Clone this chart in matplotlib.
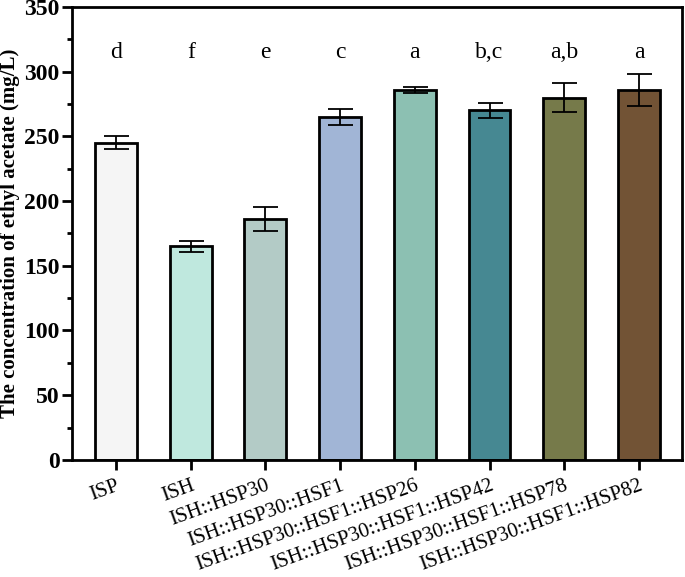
import numpy as np
import matplotlib.pyplot as plt
from matplotlib.ticker import MultipleLocator

# strains, ethyl acetate (mg/L), error bars, significance letters
strains = ['ISP', 'ISH', 'ISH::HSP30', 'ISH::HSP30::HSF1', 'ISH::HSP30::HSF1::HSP26',
           'ISH::HSP30::HSF1::HSP42', 'ISH::HSP30::HSF1::HSP78', 'ISH::HSP30::HSF1::HSP82']
conc = [245, 165, 186, 265, 286, 270, 280, 286]
err = [5, 4.5, 9.5, 6, 2.5, 5.5, 11.5, 12.5]
letters = ['d', 'f', 'e', 'c', 'a', 'b,c', 'a,b', 'a']
colors = ['#f5f5f5', '#bfe8de', '#b3cbc6', '#a1b5d6', '#8cc0b2', '#468892', '#767a4a', '#725335']

plt.rcParams['font.family'] = ['Liberation Serif', 'DejaVu Serif']

fig = plt.figure(figsize=(6.85, 5.77), dpi=100)
ax = fig.add_axes([0.105, 0.203, 0.891, 0.785])

x = np.arange(len(strains))
ax.bar(x, conc, width=0.56, color=colors, edgecolor='black', linewidth=2, zorder=2)
ax.errorbar(x, conc, yerr=err, fmt='none', ecolor='black', elinewidth=1.3,
            capsize=9, capthick=1.3, zorder=3)

for xi, lab in zip(x, letters):
    ax.text(xi, 315, lab, ha='center', va='center', fontsize=17)

ax.set_xlim(-0.59, 7.58)
ax.set_ylim(0, 350)
ax.yaxis.set_major_locator(MultipleLocator(50))
ax.yaxis.set_minor_locator(MultipleLocator(25))

ax.set_xticks(x)
ax.set_xticklabels(strains, rotation=20, ha='right', rotation_mode='anchor', fontsize=15)
for lab in ax.get_yticklabels():
    lab.set_fontweight('bold')
    lab.set_fontsize(17)

ax.set_ylabel('The concentration of ethyl acetate (mg/L)', fontsize=15, fontweight='bold',
              labelpad=3)

for s in ax.spines.values():
    s.set_linewidth(2)
ax.tick_params(axis='both', which='major', width=2, length=7)
ax.tick_params(axis='y', which='minor', width=2, length=3.6)
ax.tick_params(axis='y', which='major', pad=2)
ax.tick_params(axis='x', pad=5)

fig.savefig('out.png', dpi=100)
